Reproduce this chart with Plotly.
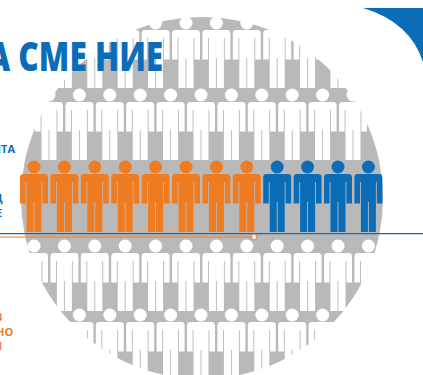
import plotly.graph_objects as go

# Pictogram: how many people fall into each group on the highlighted row
orange_people = 8
blue_people = 4

# Rows of people: head height on the canvas, first column, number of columns
row_head_y = [23, 95, 167, 246, 315]
row_first_x = [34, 49, 34, 34, 49]
row_columns = [12, 11, 12, 12, 11]
highlighted_row = 2
column_pitch = 30.4

title_text = "А СМЕ НИЕ"
side_labels_blue = [("ИТА", 148, 17), ("Ц", 197, 5), ("Е", 212, 4)]
side_labels_orange = [("В", 316, 4), ("НО", 331, 15), ("И", 345, 4)]

ORANGE = "#F07C22"
BLUE = "#0B6DB7"
GREY = "#B9B9BA"
WHITE = "#FFFFFF"

# Body outline of one person, relative to the head centre (y grows downward)
half = [
    (0, 7), (11, 7), (13.2, 7.8), (14, 10), (14, 36.5), (8.4, 36.5), (8.4, 15),
    (7.5, 15), (7.5, 65), (0.45, 65), (0.45, 35),
]
BODY = half + [(-x, y) for x, y in reversed(half)]


def people_trace(xs, head_y, color):
    bx, by = [], []
    for x in xs:
        bx += [x + dx for dx, _ in BODY] + [None]
        by += [head_y + dy for _, dy in BODY] + [None]
    return [
        go.Scatter(x=bx, y=by, mode="lines", fill="toself", fillcolor=color,
                   line=dict(width=0, color=color), hoverinfo="skip"),
        go.Scatter(x=xs, y=[head_y] * len(xs), mode="markers",
                   marker=dict(size=13, color=color, line=dict(width=0)), hoverinfo="skip"),
    ]


fig = go.Figure()

for i, (head_y, first_x, cols) in enumerate(zip(row_head_y, row_first_x, row_columns)):
    xs = [first_x + column_pitch * c for c in range(cols)]
    if i == highlighted_row:
        fig.add_traces(people_trace(xs[:orange_people], head_y, ORANGE))
        fig.add_traces(people_trace(xs[orange_people:orange_people + blue_people], head_y, BLUE))
    else:
        fig.add_traces(people_trace(xs, head_y, WHITE))

# Baselines under the highlighted row
fig.add_trace(go.Scatter(x=[0, 423], y=[233.7, 233.7], mode="lines",
                         line=dict(color=BLUE, width=1.2), hoverinfo="skip"))
fig.add_trace(go.Scatter(x=[0, 254], y=[237, 237], mode="lines+markers",
                         line=dict(color=ORANGE, width=1.2),
                         marker=dict(size=[0, 6], color=WHITE, line=dict(color=ORANGE, width=1.2)),
                         hoverinfo="skip"))

annotations = [dict(x=75, y=54.5, text=title_text, showarrow=False, xanchor="center",
                    yanchor="middle", xref="x", yref="y",
                    font=dict(family="Open Sans", size=41, weight=800, color=BLUE))]
for labels, color in ((side_labels_blue, BLUE), (side_labels_orange, ORANGE)):
    for text, y, right in labels:
        annotations.append(dict(x=right, y=y, text=f"<b>{text}</b>", showarrow=False,
                                xanchor="right", yanchor="middle", xref="x", yref="y",
                                font=dict(family="Open Sans", size=11, color=color)))

fig.update_layout(
    width=423, height=375, margin=dict(l=0, r=0, t=0, b=0),
    paper_bgcolor=WHITE, plot_bgcolor=WHITE, showlegend=False,
    xaxis=dict(range=[0, 423], visible=False, fixedrange=True),
    yaxis=dict(range=[375, 0], visible=False, fixedrange=True),
    shapes=[
        # Grey disc behind the people
        dict(type="circle", xref="x", yref="y", x0=21, x1=383, y0=17, y1=379,
             fillcolor=GREY, line=dict(width=0), layer="below"),
        # Blue corner shape
        dict(type="path", xref="x", yref="y", path="M 363 8 Q 410 22 423 62 L 423 8 Z",
             fillcolor=BLUE, line=dict(width=0), layer="below"),
    ],
    annotations=annotations,
)

# The heading is set in a condensed cut: squeeze its glyphs to the wanted width
condense_title = """
var t = document.querySelector('.annotation-text');
if (t) { t.setAttribute('textLength', '176'); t.setAttribute('lengthAdjust', 'spacingAndGlyphs'); }
"""

fig.write_html("out.html", config=dict(displayModeBar=False), post_script=condense_title)
